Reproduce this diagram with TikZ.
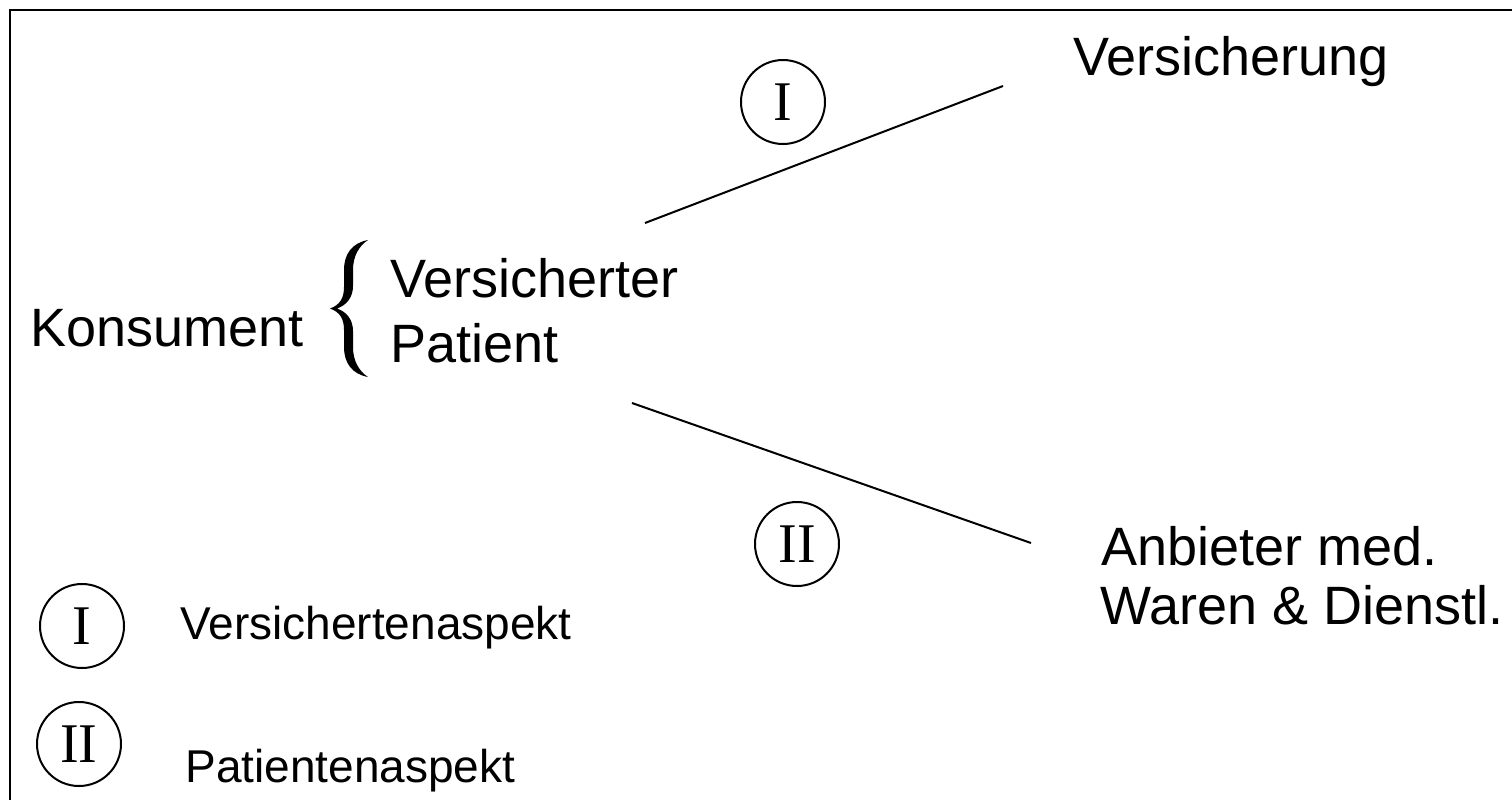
\documentclass[tikz,border=0pt]{standalone}
\usepackage{fontspec}
\setmainfont{Liberation Sans}
\newfontfamily\romanfont{Liberation Serif}
\begin{document}
\begin{tikzpicture}[x=0.5pt,y=-0.5pt,
  lbl/.style={inner sep=0pt, anchor=base west, font=\fontsize{27}{32}\selectfont},
  leg/.style={inner sep=0pt, anchor=base west, font=\fontsize{23}{27}\selectfont},
  num/.style={circle, draw, line width=1pt, minimum size=42pt, inner sep=0pt, font=\romanfont\fontsize{28}{32}\selectfont},
  conn/.style={line width=1pt}]
\useasboundingbox (0,0) rectangle (1512,799);
\draw[line width=1.1pt] (10,830) -- (10,10) -- (1540,10);
% texts
\node[lbl] (vers) at (1073,75) {Versicherung};
\node[lbl] (kons) at (30,346) {Konsument};
\node[lbl] (vt) at (390,297) {Versicherter};
\node[lbl] (pat) at (390,362) {Patient};
\node[lbl] (anb) at (1101,565) {Anbieter med.};
\node[lbl] (war) at (1100,624) {Waren \& Dienstl.};
% circles
\node[num] (c1) at (783,102) {I};
\node[num] (c2) at (797,544) {II};
\node[num] (l1) at (82,626) {I};
\node[num] (l2) at (79,744) {II};
\node[leg] (t1) at (180,639) {Versichertenaspekt};
\node[leg] (t2) at (185,782) {Patientenaspekt};
% brace
\fill (368,240) .. controls (352,243) and (344,254) .. (344,270) -- (344,287)
  .. controls (344,298) and (340,305) .. (330,308.5)
  .. controls (340,312) and (344,319) .. (344,330) -- (344,347)
  .. controls (344,363) and (352,374) .. (368,377)
  .. controls (359,371) and (353,361) .. (353,347) -- (353,331)
  .. controls (353,320) and (347,312) .. (337,308.5)
  .. controls (347,305) and (353,297) .. (353,286) -- (353,270)
  .. controls (353,256) and (359,246) .. (368,240) -- cycle;
% connectors
\coordinate (a1) at (645,223);
\coordinate (a2) at (1003,86);
\coordinate (b1) at (632,403);
\coordinate (b2) at (1031,543);
\draw[conn] (a1) -- (a2);
\draw[conn] (b1) -- (b2);
\end{tikzpicture}
\end{document}
